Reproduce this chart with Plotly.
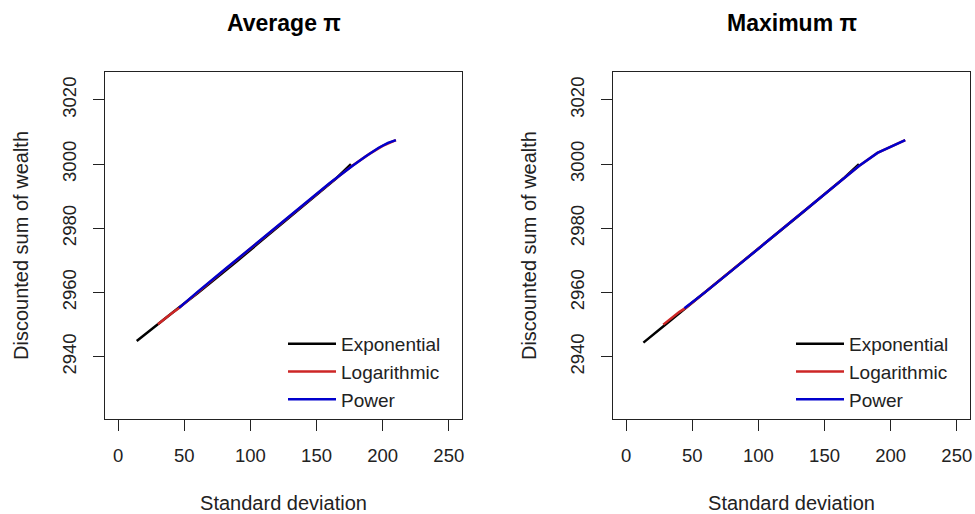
import plotly.graph_objects as go

# ---- data ----
# Panel 1: Average pi
avg_exp_x = [14, 20, 30, 45, 60, 75, 90, 105, 120, 135, 150, 165, 176]
avg_exp_y = [2944.9, 2946.9, 2950.2, 2955.0, 2959.8, 2964.7, 2969.8, 2975.0, 2980.2, 2985.4, 2990.5, 2995.6, 3000.0]
avg_log_x = [30, 35, 40, 46, 60, 80, 100, 120, 140, 160, 177, 190, 200, 210]
avg_log_y = [2950.1, 2951.8, 2953.4, 2955.2, 2960.1, 2966.9, 2973.7, 2980.5, 2987.3, 2994.0, 2999.5, 3003.2, 3005.7, 3007.5]
avg_pow_x = [46, 60, 80, 100, 120, 140, 160, 177, 187, 197, 204, 210]
avg_pow_y = [2955.2, 2960.2, 2967.0, 2973.8, 2980.6, 2987.4, 2994.1, 2999.4, 3002.4, 3005.1, 3006.6, 3007.5]

# Panel 2: Maximum pi
max_exp_x = [13, 18, 24, 30, 45, 60, 75, 90, 105, 120, 135, 150, 165, 176]
max_exp_y = [2944.4, 2946.0, 2948.0, 2950.1, 2955.2, 2960.2, 2965.2, 2970.2, 2975.3, 2980.4, 2985.5, 2990.6, 2995.8, 3000.0]
max_log_x = [28, 34, 40, 45, 60, 80, 100, 120, 140, 160, 176, 190, 200, 211]
max_log_y = [2950.0, 2952.1, 2953.9, 2955.2, 2960.2, 2966.9, 2973.7, 2980.5, 2987.3, 2994.0, 2999.4, 3003.5, 3005.3, 3007.5]
max_pow_x = [44, 60, 80, 100, 120, 140, 160, 176, 190, 200, 211]
max_pow_y = [2955.1, 2960.2, 2966.9, 2973.7, 2980.5, 2987.3, 2994.0, 2999.4, 3003.5, 3005.3, 3007.5]

series_names = ["Exponential", "Logarithmic", "Power"]
series_colors = ["#000000", "#CD2626", "#0000CD"]

panel_titles = ["Average π", "Maximum π"]
x_ticks = [0, 50, 100, 150, 200, 250]
y_ticks = [2940, 2960, 2980, 3000, 3020]
x_range = [-10, 260]
y_range = [2920.6, 3028.7]

panels = [
    [(avg_exp_x, avg_exp_y), (avg_log_x, avg_log_y), (avg_pow_x, avg_pow_y)],
    [(max_exp_x, max_exp_y), (max_log_x, max_log_y), (max_pow_x, max_pow_y)],
]

W, H = 975, 514
fig = go.Figure()


def px_x(v):
    return v / W


def px_y(v):
    return 1 - v / H


font_family = "Liberation Sans, Arial, sans-serif"
x_domains = [[px_x(105), px_x(462)], [px_x(613), px_x(970)]]
y_domain = [px_y(419), px_y(72)]

for p, series in enumerate(panels):
    xa = "x" if p == 0 else "x2"
    ya = "y" if p == 0 else "y2"
    leg = "legend" if p == 0 else "legend2"
    for (xs, ys), name, col in zip(series, series_names, series_colors):
        fig.add_trace(go.Scatter(
            x=xs, y=ys, mode="lines", name=name,
            line=dict(color=col, width=2.5),
            xaxis=xa, yaxis=ya, legend=leg, showlegend=True,
        ))

axis_common = dict(
    showgrid=False, zeroline=False, showline=True, mirror=True,
    linecolor="#222222", linewidth=1.2, ticks="outside", ticklen=11,
    tickwidth=1.2, tickcolor="#222222", automargin=False,
    tickfont=dict(family=font_family, size=18.5, color="#222222"),
)

layout = dict(
    width=W, height=H,
    margin=dict(l=0, r=0, t=0, b=0, autoexpand=False),
    paper_bgcolor="white", plot_bgcolor="white",
    font=dict(family=font_family, color="#222222"),
)
for p in range(2):
    sx = "" if p == 0 else "2"
    layout["xaxis" + sx] = dict(
        axis_common, domain=x_domains[p], range=x_range,
        tickvals=x_ticks, anchor="y" + sx, ticklabelstandoff=9,
        title=dict(text="Standard deviation", standoff=30,
                   font=dict(family=font_family, size=20, color="#222222")),
    )
    layout["yaxis" + sx] = dict(
        axis_common, domain=y_domain, range=y_range,
        tickvals=y_ticks, tickangle=-90, anchor="x" + sx, ticklabelstandoff=10,
        title=dict(text="Discounted sum of wealth", standoff=24,
                   font=dict(family=font_family, size=20, color="#222222")),
    )
    layout["legend" + sx] = dict(
        x=px_x(283 if p == 0 else 791), y=px_y(325),
        xanchor="left", yanchor="top",
        bgcolor="rgba(0,0,0,0)", borderwidth=0,
        font=dict(family=font_family, size=19, color="#222222"),
        tracegroupgap=0, itemwidth=48,
    )

fig.update_layout(**layout)

for p in range(2):
    fig.add_annotation(
        text="<b>" + panel_titles[p] + "</b>",
        x=sum(x_domains[p]) / 2, y=px_y(23), xref="paper", yref="paper",
        showarrow=False, xanchor="center", yanchor="middle",
        font=dict(family=font_family, size=23, color="#000000"),
    )

fig.write_html(
    "out.html",
    config={"displayModeBar": False},
    post_script="document.body.style.margin='0';document.body.style.overflow='hidden';",
)
